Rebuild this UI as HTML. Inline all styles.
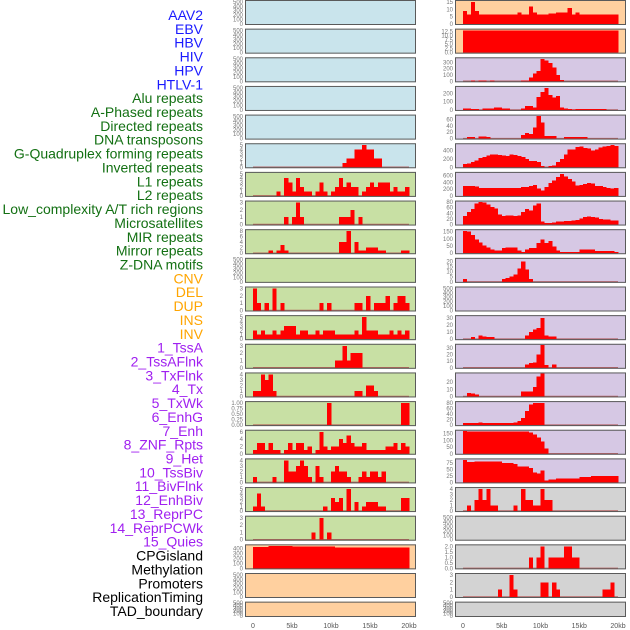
<!DOCTYPE html>
<html><head><meta charset="utf-8"><style>
html,body{margin:0;padding:0;background:#fff;}
svg{display:block;font-family:"Liberation Sans",sans-serif;}
</style></head><body>
<svg id="chart" width="630" height="630" viewBox="0 0 630 630" xmlns="http://www.w3.org/2000/svg"></svg>
<script>
// ---- data (0.5kb bins, 40 per track) ----
const emptyVals = [];
const htlvVals = [0,0,0,0,0,0,0,0,0,0, 0,0,0,0,0,0,0,0,0,0, 0,0,0,1,2,2,4,4,5,4, 4,2,2,0,0,0,0,0,0,0];
const aluVals = [0,0,0,0,0,0,1,0,4,3, 1,4,2,1,1,0,1,3,1,0, 1,2,4,2,3,2,2,0,1,2, 3,2,3,3,3,1,2,1,1,2];
const aphasedVals = [0,0,0,0,0,0,0,0,1,0, 1,3,1,0,0,0,0,0,0,0, 0,0,1,1,1,2,0,1,0,0, 0,0,0,0,0,0,0,0,0,0];
const directedVals = [0,0,0,0,1,0,1,3,1,0, 0,0,0,0,0,0,0,0,0,0, 0,0,4,4,8,0,4,1,1,2, 2,2,1,1,0,0,0,0,1,1];
const gquadVals = [3,1,0,1,0,3,0,1,0,0, 0,0,0,0,0,0,0,1,0,1, 0,0,0,0,0,0,1,1,0,2, 0,1,1,1,2,0,1,2,2,1];
const invertedVals = [2,1,2,1,1,2,1,2,3,3, 3,1,2,2,1,1,2,1,2,2, 2,1,1,1,1,1,2,1,5,2, 2,2,1,1,1,2,1,2,1,2];
const l1Vals = [0,0,0,0,0,0,0,0,0,0, 0,0,0,0,0,0,0,0,0,0, 0,1,1,3,1,2,2,2,0,0, 0,0,0,0,0,0,0,0,0,0];
const l2Vals = [1,1,4,3,4,1,0,0,0,0, 0,0,0,0,0,0,0,0,0,0, 0,0,0,0,0,0,1,1,0,2, 2,1,0,0,0,0,0,0,0,0];
const lowcVals = [0,0,0,0,0,0,0,0,0,0, 0,0,0,0,0,0,0,0,0,1, 0,0,0,0,0,0,0,0,0,0, 0,0,0,0,0,0,0,0,1,1];
const microsatVals = [1,3,3,1,3,1,1,0,1,3, 1,3,3,1,2,0,1,6,2,1, 2,2,4,3,5,3,2,2,3,1, 1,1,1,1,2,2,3,1,3,2];
const mirVals = [1,0,0,0,0,1,0,0,4,2, 2,3,4,3,1,0,3,1,0,0, 2,3,2,2,1,0,0,1,2,1, 2,2,1,2,0,0,0,0,0,0];
const mirrorVals = [1,4,1,0,0,0,0,0,0,0, 0,0,0,0,0,0,0,0,1,0, 3,2,3,0,5,0,2,0,1,2, 2,2,1,1,0,0,0,0,3,3];
const zdnaVals = [0,0,0,0,0,0,0,0,0,0, 0,0,0,0,0,1,0,3,0,1, 0,0,0,0,0,0,0,0,0,0, 0,0,0,0,0,0,0,0,0,0];
const cnvVals = [430,430,430,430,445,445,445,445,445,445, 435,435,435,435,435,435,435,435,435,440, 438,420,420,420,420,420,420,420,420,420, 420,420,420,420,420,420,420,420,420,420];
const insVals = [9,6.5,15,9,6.5,6.5,6.5,6.5,6.5,6.5, 6.5,6.5,6.5,6.5,8,6.5,6.5,12,8,6.5, 6.5,6.5,7,7,8,8,8,11,6.5,8, 6.5,6.5,6.5,6.5,6.5,6.5,6.5,6.5,6.5,6.5];
const invVals = [13,13,13,13,13,13,13,13,13,13, 13,13,13,13,13,13,13,13,13,13, 13,13,13,13,13,13,13,13,13,13, 13,13,13,13,13,13,13,13,13,13];
const tssaVals = [0,0,10,0,10,10,0,10,0,0, 0,0,0,0,0,10,10,60,120,160, 350,330,290,220,100,20,0,0,0,0, 0,0,0,0,0,0,0,0,0,0];
const tssaflnkVals = [15,15,10,10,0,15,15,15,30,30, 20,20,0,0,0,20,50,50,30,160, 220,270,180,150,170,30,20,10,5,10, 10,10,10,10,10,10,10,0,0,0];
const txflnkVals = [0,5,5,0,7,7,5,0,0,0, 0,0,0,0,0,12,18,15,35,70, 50,8,8,8,0,0,5,5,5,5, 5,5,0,0,0,0,0,0,0,0];
const txVals = [80,90,120,160,220,250,280,300,310,290, 280,270,300,290,270,240,200,150,150,120, 30,0,30,40,120,200,300,420,420,480, 500,460,450,400,430,470,500,510,530,510];
const txwkVals = [300,300,300,280,230,230,230,230,230,230, 240,240,240,240,240,270,270,290,320,220, 160,260,380,460,560,650,580,500,420,310, 320,350,380,360,300,290,260,240,220,230];
const enhgVals = [30,45,55,75,80,78,72,62,58,35, 30,32,32,30,33,45,55,50,68,75, 10,5,5,7,10,10,12,12,15,17, 22,27,28,27,25,20,18,18,15,15];
const enhVals = [155,150,125,95,75,55,40,25,20,20, 35,40,40,40,20,10,25,35,35,70, 95,70,85,45,20,10,10,10,10,10, 25,25,25,25,15,15,15,15,15,8];
const znfVals = [3,0,0,0,0,0,0,0,0,0, 3,4,5,7,13,20,12,3,0,0, 0,0,0,0,0,0,0,0,0,0, 0,0,0,0,0,0,0,0,0,0];
const tssbivVals = [0,0,3,0,5,4,3,3,0,0, 0,0,0,0,0,0,5,10,14,16, 30,5,4,4,0,0,0,0,0,0, 0,0,0,0,0,0,0,0,0,0];
const bivflnkVals = [0,0,0,0,0,0,0,0,0,0, 0,0,0,0,0,0,5,7,8,20, 35,4,0,5,0,0,0,0,0,0, 0,0,0,0,0,0,0,0,0,0];
const enhbivVals = [0,5,4,3,0,0,0,0,0,0, 0,0,0,0,0,7,7,7,13,28, 32,0,0,0,0,0,0,0,0,0, 0,0,0,0,0,0,0,0,0,0];
const reprpcVals = [8,8,8,8,10,8,8,8,8,8, 8,8,8,10,15,25,50,75,80,80, 80,0,0,0,0,0,0,0,0,0, 0,0,0,0,0,0,0,0,0,0];
const reprpcwkVals = [170,165,165,165,165,165,165,165,165,165, 165,165,165,165,165,165,165,160,145,120, 90,40,0,0,0,0,0,0,0,0, 0,0,0,0,0,0,0,0,0,0];
const quiesVals = [85,78,78,80,80,80,80,80,80,80, 75,75,75,70,60,60,60,55,38,35, 45,8,12,12,15,15,15,15,15,15, 20,20,20,25,25,25,25,25,25,25];
const cpgVals = [0,1,0,2,4,2,4,1,1,0, 0,0,0,1,0,4,2,2,1,1, 4,2,2,0,0,0,0,0,0,0, 0,0,0,0,0,0,0,0,0,0];
const promotersVals = [0,0,0,0,0,0,0,0,0,0, 0,0,0,0,0,0,0,1,0,1, 2,0,1,1,1,1,2,2,1,1, 0,0,0,0,0,0,0,0,0,0];
const reptimingVals = [0,0,0,0,0,0,0,0,0,1, 0,0,3,1,0,0,0,0,0,0, 2,2,0,2,1,0,0,0,0,0, 0,0,0,0,0,0,1,1,2,0];

const xTickLabels = ["0","5kb","10kb","15kb","20kb"];
const xTickValues = [0,5,10,15,20];
const labels = ["AAV2","EBV","HBV","HIV","HPV","HTLV-1","Alu repeats","A-Phased repeats","Directed repeats","DNA transposons","G-Quadruplex forming repeats","Inverted repeats","L1 repeats","L2 repeats","Low_complexity A/T rich regions","Microsatellites","MIR repeats","Mirror repeats","Z-DNA motifs","CNV","DEL","DUP","INS","INV","1_TssA","2_TssAFlnk","3_TxFlnk","4_Tx","5_TxWk","6_EnhG","7_Enh","8_ZNF_Rpts","9_Het","10_TssBiv","11_BivFlnk","12_EnhBiv","13_ReprPC","14_ReprPCWk","15_Quies","CPGisland","Methylation","Promoters","ReplicationTiming","TAD_boundary"];

const E = [0,100,200,300,400,500];
const tracks = [
 [emptyVals,520,E],[emptyVals,520,E],[emptyVals,520,E],[emptyVals,520,E],[emptyVals,520,E],
 [htlvVals,5.2,[0,1,2,3,4,5]],
 [aluVals,5.2,[0,1,2,3,4,5]],[aphasedVals,3.15,[0,1,2,3]],[directedVals,8.3,[0,2,4,6,8]],
 [emptyVals,520,E],[gquadVals,3.15,[0,1,2,3]],[invertedVals,5.2,[0,1,2,3,4,5]],
 [l1Vals,3.15,[0,1,2,3]],[l2Vals,4.2,[0,1,2,3,4]],[lowcVals,1.05,[0,0.25,0.5,0.75,1]],
 [microsatVals,6.3,[0,2,4,6]],[mirVals,4.2,[0,1,2,3,4]],[mirrorVals,5.2,[0,1,2,3,4,5]],
 [zdnaVals,3.15,[0,1,2,3]],[cnvVals,460,[0,100,200,300,400]],[emptyVals,520,E],[emptyVals,520,E],
 [insVals,15.7,[0,5,10,15]],[invVals,13.6,[0,2.5,5,7.5,10,12.5]],
 [tssaVals,365,[0,100,200,300]],[tssaflnkVals,280,[0,100,200]],[txflnkVals,72,[0,20,40,60]],
 [txVals,550,[0,200,400]],[txwkVals,680,[0,200,400,600]],[enhgVals,82,[0,20,40,60,80]],
 [enhVals,160,[0,50,100,150]],[znfVals,22.5,[0,5,10,15,20]],[emptyVals,520,E],
 [tssbivVals,33,[0,10,20,30]],[bivflnkVals,35,[0,10,20,30]],[enhbivVals,32,[0,10,20]],
 [reprpcVals,83,[0,20,40,60,80]],[reprpcwkVals,172,[0,50,100,150]],[quiesVals,88,[0,25,50,75]],
 [cpgVals,4.2,[0,1,2,3,4]],[emptyVals,520,E],[promotersVals,2.1,[0,0.5,1,1.5,2]],
 [reptimingVals,3.15,[0,1,2,3]],[emptyVals,520,E]
];

const NS = "http://www.w3.org/2000/svg";
const svg = document.getElementById("chart");
function mk(tag, attrs, parent){ const el=document.createElementNS(NS,tag); for(const k in attrs) el.setAttribute(k,attrs[k]); (parent||svg).appendChild(el); return el; }
function colorOf(i){ if(i<6) return "#1a1aff"; if(i<19) return "#137013"; if(i<24) return "#ffa500"; if(i<39) return "#a020f0"; return "#000"; }
function bgOf(i){ if(i<6) return "#c9e4ec"; if(i<19) return "#c8e0a4"; if(i<24) return "#ffd09f"; if(i<39) return "#d6c8e4"; return "#d3d3d3"; }
function fmt(v, ticks){ if(ticks.includes(0.25)) return v.toFixed(2); if(ticks.includes(0.5)||ticks.includes(2.5)) return v.toFixed(1); return String(v); }

labels.forEach((lab,i)=>{
  const t = mk("text",{x:203,y:20+i*13.86,"text-anchor":"end","font-size":14,fill:colorOf(i)});
  t.textContent = lab;
  
  
});

tracks.forEach((tr,i)=>{
  const col = i<22?0:1, row = i%22;
  const px = col===0?245:455, pw = 171;
  const top = Math.max(0, row*28.65);
  const bottom = row===21 ? 617 : row*28.65+25;
  const ph = bottom-top;
  const x0 = col===0?253:463, kx = col===0?7.8:7.75;
  const xs = kb => x0 + kb*kx;
  const [vals, ymax, ticks] = tr;
  const ys = v => bottom - 1 - v/ymax*(ph-2);
  const g = mk("g",{});
  
  
  mk("rect",{x:px,y:top,width:pw,height:ph,fill:bgOf(i)},g);
  if(vals.length){
    mk("line",{x1:xs(0),x2:xs(20),y1:ys(0),y2:ys(0),stroke:"#b04a4a","stroke-width":1.5,opacity:0.8},g);
    vals.forEach((v,b)=>{
      if(!v) return;
      const r = mk("rect",{x:xs(b*0.5),y:ys(v),width:xs((b+1)*0.5)-xs(b*0.5)+0.3,height:ys(0)-ys(v),fill:"#ff0000","shape-rendering":"crispEdges"},g);
      
      
    });
  }
  mk("rect",{x:px+0.5,y:top+0.5,width:pw-1,height:ph-1,fill:"none",stroke:"#5a5a5a","stroke-width":1},g);
  ticks.forEach(v=>{
    const t = mk("text",{x:px-2,y:ys(v)+2,"text-anchor":"end","font-size":6,fill:"#777"},g);
    t.textContent = fmt(v,ticks);
    
    
  });
});

[0,1].forEach(col=>{
  const x0 = col===0?253:463, kx = col===0?7.8:7.75;
  xTickValues.forEach((v,j)=>{
    const t = mk("text",{x:x0+v*kx,y:628,"text-anchor":"middle","font-size":7,fill:"#555"});
    t.textContent = xTickLabels[j];
    
    
  });
});
</script>
</body></html>
